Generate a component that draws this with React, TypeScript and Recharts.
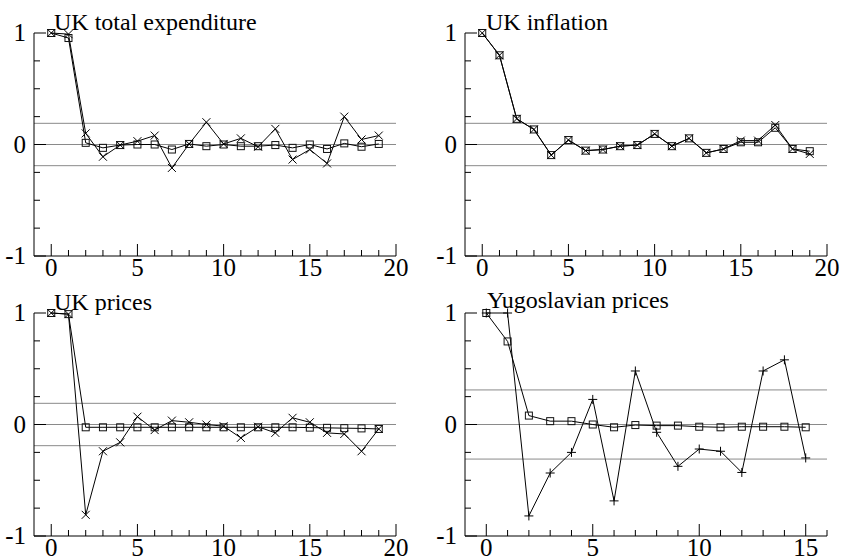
import React from "react";
import { LineChart, Line, XAxis, YAxis, ReferenceLine } from "recharts";

// lags
const lags20 = Array.from({ length: 20 }, (_, i) => i);
const lags16 = Array.from({ length: 16 }, (_, i) => i);

// UK total expenditure
const expCross = [1, 0.99, 0.1, -0.11, -0.005, 0.03, 0.08, -0.21, 0.005, 0.2, 0.005, 0.055, -0.02, 0.14, -0.135, -0.045, -0.17, 0.25, 0.045, 0.08];
const expBox = [1, 0.955, 0.015, -0.03, -0.005, 0.0, 0.0, -0.045, 0.005, -0.015, 0.0, -0.015, -0.015, -0.005, -0.03, 0.0, -0.04, 0.01, -0.02, 0.005];

// UK inflation
const inflCross = [1, 0.8, 0.23, 0.135, -0.095, 0.04, -0.055, -0.045, -0.015, -0.005, 0.095, -0.015, 0.055, -0.075, -0.04, 0.035, 0.035, 0.175, -0.04, -0.085];
const inflBox = [1, 0.8, 0.23, 0.135, -0.095, 0.04, -0.055, -0.045, -0.015, -0.005, 0.095, -0.015, 0.055, -0.075, -0.04, 0.02, 0.02, 0.15, -0.04, -0.06];

// UK prices
const priceCross = [1, 0.99, -0.81, -0.24, -0.16, 0.07, -0.05, 0.035, 0.02, 0.0, -0.015, -0.12, -0.02, -0.075, 0.06, 0.02, -0.075, -0.085, -0.24, -0.04];
const priceBox = [1, 0.99, -0.025, -0.025, -0.025, -0.025, -0.025, -0.025, -0.025, -0.025, -0.025, -0.025, -0.025, -0.025, -0.025, -0.028, -0.03, -0.033, -0.035, -0.04];

// Yugoslavian prices
const yugPlus = [1, 1, -0.82, -0.435, -0.25, 0.225, -0.685, 0.48, -0.07, -0.375, -0.22, -0.24, -0.43, 0.48, 0.58, -0.3];
const yugBox = [1, 0.745, 0.08, 0.03, 0.03, 0.0, -0.025, -0.005, -0.01, -0.01, -0.02, -0.025, -0.02, -0.02, -0.02, -0.025];

const yTicks = [-1, -0.75, -0.5, -0.25, 0, 0.25, 0.5, 0.75, 1];
const yLabels = [-1, 0, 1];

const SERIF = "'Liberation Serif', 'Times New Roman', serif";

type Kind = "box" | "cross" | "plus";

function marker(p: any, kind: Kind) {
  const { cx, cy, index } = p;
  const k = `${kind}-${index}`;
  if (cx == null || cy == null) return <g key={k} />;
  if (kind === "box") {
    return <rect key={k} x={cx - 3.5} y={cy - 3.5} width={7} height={7} fill="none" stroke="#111" strokeWidth={1} />;
  }
  if (kind === "cross") {
    return (
      <g key={k} stroke="#000" strokeWidth={1}>
        <line x1={cx - 4} y1={cy - 4} x2={cx + 4} y2={cy + 4} />
        <line x1={cx - 4} y1={cy + 4} x2={cx + 4} y2={cy - 4} />
      </g>
    );
  }
  return (
    <g key={k} stroke="#000" strokeWidth={1}>
      <line x1={cx - 4.5} y1={cy} x2={cx + 4.5} y2={cy} />
      <line x1={cx} y1={cy - 4.5} x2={cx} y2={cy + 4.5} />
    </g>
  );
}

function XTick(props: any) {
  const { x, y, payload } = props;
  const v = payload.value;
  const major = v % 5 === 0;
  return (
    <g>
      <line x1={x} y1={y} x2={x} y2={y - (major ? 12 : 6)} stroke="#000" />
      {major && (
        <text x={x} y={y + 20} textAnchor="middle" fontFamily={SERIF} fontSize={25} fill="#000">
          {v}
        </text>
      )}
    </g>
  );
}

function YTick(props: any) {
  const { x, y, payload } = props;
  const v = payload.value;
  const major = yLabels.includes(v);
  return (
    <g>
      <line x1={x} y1={y} x2={x + (major ? 12 : 6)} y2={y} stroke="#000" />
      {major && (
        <text x={x - 8} y={y + 8} textAnchor="end" fontFamily={SERIF} fontSize={25} fill="#000">
          {v}
        </text>
      )}
    </g>
  );
}

interface PanelProps {
  left: number;
  top: number;
  width: number;
  yAxisWidth: number;
  rightMargin: number;
  xMax: number;
  title: string;
  titleX: number;
  titleY: number;
  lags: number[];
  a: number[];
  aKind: Kind;
  b: number[];
  band: number;
}

function Panel(p: PanelProps) {
  const data = p.lags.map((lag, i) => ({ lag, a: p.a[i], b: p.b[i] }));
  const xTicks = Array.from({ length: p.xMax + 1 }, (_, i) => i);
  return (
    <div style={{ position: "absolute", left: p.left, top: p.top, width: p.width, height: 290 }}>
      <LineChart width={p.width} height={290} data={data} margin={{ top: 33, right: p.rightMargin, bottom: 10, left: 0 }}>
        <XAxis
          dataKey="lag"
          type="number"
          domain={[-1, p.xMax]}
          ticks={xTicks}
          interval={0}
          height={24}
          tickSize={0}
          tickMargin={0}
          tickLine={false}
          axisLine={{ stroke: "#000" }}
          tick={<XTick />}
        />
        <YAxis
          type="number"
          domain={[-1, 1]}
          ticks={yTicks}
          interval={0}
          width={p.yAxisWidth}
          tickSize={0}
          tickMargin={0}
          tickLine={false}
          axisLine={{ stroke: "#000" }}
          tick={<YTick />}
        />
        <ReferenceLine y={p.band} stroke="#8a8a8a" />
        <ReferenceLine y={0} stroke="#8a8a8a" />
        <ReferenceLine y={-p.band} stroke="#8a8a8a" />
        <Line
          dataKey="b"
          stroke="#000"
          strokeWidth={1}
          dot={(d: any) => marker(d, "box")}
          activeDot={false}
          isAnimationActive={false}
        />
        <Line
          dataKey="a"
          stroke="#000"
          strokeWidth={1}
          dot={(d: any) => marker(d, p.aKind)}
          activeDot={false}
          isAnimationActive={false}
        />
      </LineChart>
      <svg width={p.width} height={40} style={{ position: "absolute", left: 0, top: 0, overflow: "visible" }}>
        <text x={p.titleX} y={p.titleY} fontFamily={SERIF} fontSize={24} fill="#000">
          {p.title}
        </text>
      </svg>
    </div>
  );
}

export default function App() {
  return (
    <div style={{ position: "absolute", left: 0, top: 0, width: 843, height: 560, background: "#fff", overflow: "hidden" }}>
      <Panel left={0} top={0} width={420} yAxisWidth={34} rightMargin={24} xMax={20}
        title="UK total expenditure" titleX={54} titleY={30}
        lags={lags20} a={expCross} aKind="cross" b={expBox} band={0.19} />
      <Panel left={420} top={0} width={423} yAxisWidth={45} rightMargin={16} xMax={20}
        title="UK inflation" titleX={66} titleY={30}
        lags={lags20} a={inflCross} aKind="cross" b={inflBox} band={0.19} />
      <Panel left={0} top={280} width={420} yAxisWidth={34} rightMargin={24} xMax={20}
        title="UK prices" titleX={54} titleY={30}
        lags={lags20} a={priceCross} aKind="cross" b={priceBox} band={0.19} />
      <Panel left={420} top={280} width={423} yAxisWidth={45} rightMargin={16} xMax={16}
        title="Yugoslavian prices" titleX={67} titleY={28}
        lags={lags16} a={yugPlus} aKind="plus" b={yugBox} band={0.31} />
    </div>
  );
}
